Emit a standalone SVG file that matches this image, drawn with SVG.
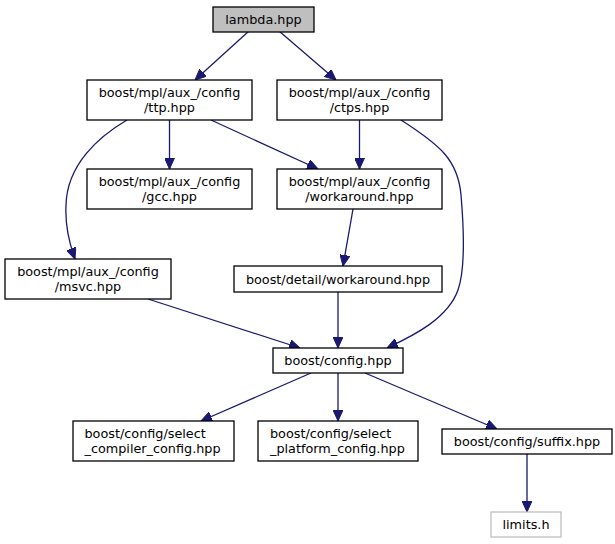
<svg xmlns="http://www.w3.org/2000/svg" width="615" height="544" viewBox="0 0 615 544">
<defs>
<style>
.n rect{fill:#fff;stroke:#000;stroke-width:1.3}
.n text{font-family:"DejaVu Sans",sans-serif;font-size:12.8px;fill:#000;text-anchor:middle}
.n text.l{text-anchor:start}
#n0 rect{fill:#bfbfbf}
#n12 rect{stroke:#bfbfbf}
.e path{fill:none;stroke:#191970;stroke-width:1.3;marker-end:url(#a)}
</style>
<marker id="a" viewBox="0 0 11 10" refX="11" refY="5" markerWidth="11" markerHeight="10" markerUnits="userSpaceOnUse" orient="auto">
<path d="M0,0 L11,5 L0,10 z" fill="#191970" stroke="#191970"/>
</marker>
</defs>
<rect width="615" height="544" fill="#fff"/>
<g class="e" id="edges">
<path d="M249,31 L195,80"/>
<path d="M279,31 L336,80"/>
<path d="M169.5,120 L169.5,169"/>
<path d="M211,120 L318,169"/>
<path d="M359.5,120 L359.5,169"/>
<path d="M127,120 C98,137 67,165 66,205 C65,225 68,240 75,259"/>
<path d="M401,120 C440,145 458,160 461,195 C464,230 465,270 458,290 C448,318 415,335 387,348"/>
<path d="M353,209 L343,266"/>
<path d="M148,299 L300,348"/>
<path d="M338,292 L338,348"/>
<path d="M311,373 L201,421"/>
<path d="M338,373 L338,421"/>
<path d="M365,373 L497,429"/>
<path d="M527,454 L527,512"/>
</g>
<g class="n" id="n0"><rect x="213" y="7" width="101" height="25"/><text x="263.5" y="24">lambda.hpp</text></g>
<g class="n" id="n1"><rect x="87" y="80" width="165" height="40"/><text x="169.5" y="97">boost/mpl/aux_/config</text><text x="169.5" y="112">/ttp.hpp</text></g>
<g class="n" id="n2"><rect x="277" y="80" width="165" height="40"/><text x="359.5" y="97">boost/mpl/aux_/config</text><text x="359.5" y="112">/ctps.hpp</text></g>
<g class="n" id="n3"><rect x="87" y="169" width="165" height="40"/><text x="169.5" y="186">boost/mpl/aux_/config</text><text x="169.5" y="201">/gcc.hpp</text></g>
<g class="n" id="n4"><rect x="277" y="169" width="165" height="40"/><text x="359.5" y="186">boost/mpl/aux_/config</text><text x="359.5" y="201">/workaround.hpp</text></g>
<g class="n" id="n5"><rect x="5" y="259" width="166" height="40"/><text x="88" y="276">boost/mpl/aux_/config</text><text x="88" y="291">/msvc.hpp</text></g>
<g class="n" id="n6"><rect x="234" y="266" width="208" height="26"/><text x="338" y="283.5">boost/detail/workaround.hpp</text></g>
<g class="n" id="n7"><rect x="273" y="348" width="130" height="25"/><text x="338" y="365">boost/config.hpp</text></g>
<g class="n" id="n8"><rect x="73" y="421" width="161" height="40"/><text class="l" x="84.5" y="438">boost/config/select</text><text class="l" x="84.5" y="453">_compiler_config.hpp</text></g>
<g class="n" id="n9"><rect x="258" y="421" width="160" height="40"/><text class="l" x="270" y="438">boost/config/select</text><text class="l" x="270" y="453">_platform_config.hpp</text></g>
<g class="n" id="n10"><rect x="442" y="429" width="170" height="25"/><text x="527" y="446">boost/config/suffix.hpp</text></g>
<g class="n" id="n12"><rect x="491" y="512" width="70" height="25"/><text x="526" y="529">limits.h</text></g>
</svg>
